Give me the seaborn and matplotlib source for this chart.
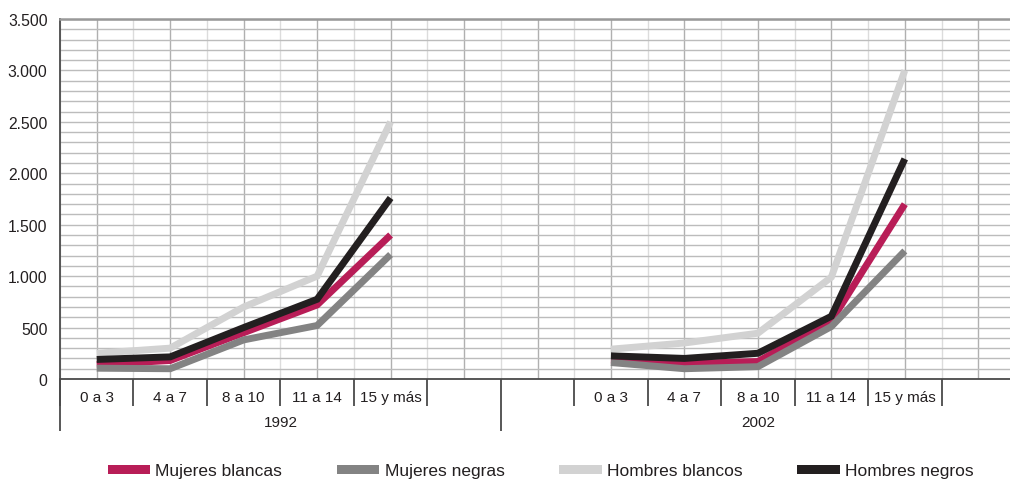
import numpy as np
import pandas as pd
import matplotlib
matplotlib.use("Agg")
import matplotlib.pyplot as plt
import matplotlib.transforms as mtransforms
from matplotlib.patches import Patch
from matplotlib.ticker import MultipleLocator, FuncFormatter
import seaborn as sns

# --- data ---
years = ["1992", "2002"]
categories = ["0 a 3", "4 a 7", "8 a 10", "11 a 14", "15 y más"]
series = ["Mujeres blancas", "Mujeres negras", "Hombres blancos", "Hombres negros"]

mujeres_blancas_1992 = [140, 180, 450, 720, 1400]
mujeres_negras_1992 = [105, 100, 380, 520, 1210]
hombres_blancos_1992 = [250, 300, 700, 1000, 2500]
hombres_negros_1992 = [190, 215, 500, 775, 1760]

mujeres_blancas_2002 = [185, 150, 170, 565, 1700]
mujeres_negras_2002 = [160, 100, 120, 510, 1245]
hombres_blancos_2002 = [290, 350, 445, 990, 3000]
hombres_negros_2002 = [225, 200, 250, 610, 2140]

colors = {
    "Mujeres blancas": "#b81d57",
    "Mujeres negras": "#838383",
    "Hombres blancos": "#d2d2d2",
    "Hombres negros": "#231f20",
}

values = {
    ("1992", "Mujeres blancas"): mujeres_blancas_1992,
    ("1992", "Mujeres negras"): mujeres_negras_1992,
    ("1992", "Hombres blancos"): hombres_blancos_1992,
    ("1992", "Hombres negros"): hombres_negros_1992,
    ("2002", "Mujeres blancas"): mujeres_blancas_2002,
    ("2002", "Mujeres negras"): mujeres_negras_2002,
    ("2002", "Hombres blancos"): hombres_blancos_2002,
    ("2002", "Hombres negros"): hombres_negros_2002,
}

# each year group occupies a block of slots on the x axis
group_offset = {"1992": 0, "2002": 7}
n_slots = 13

rows = []
for (year, name), vals in values.items():
    for i, v in enumerate(vals):
        rows.append({"year": year, "serie": name, "pos": group_offset[year] + i, "value": v})
df = pd.DataFrame(rows)

# --- style ---
sns.set_style("white")
plt.rcParams["font.family"] = ["Liberation Sans", "DejaVu Sans"]
text_color = "#231f20"

fig = plt.figure(figsize=(10.10, 4.81), dpi=100)
W, H = 1010, 481
ax = fig.add_axes([60 / W, (H - 380) / H, 955 / W, 360 / H])

sns.lineplot(
    data=df, x="pos", y="value", hue="serie", units="year", estimator=None,
    hue_order=series, palette=colors, linewidth=5.0, legend=False, ax=ax,
    solid_capstyle="butt", solid_joinstyle="miter", zorder=3,
)

ax.set_xlim(-0.5, n_slots - 0.5)
ax.set_ylim(0, 3500)

# grid: category centres darker, boundaries lighter, 100-step horizontals
ax.xaxis.set_major_locator(MultipleLocator(1))
ax.xaxis.set_minor_locator(MultipleLocator(0.5))
ax.yaxis.set_major_locator(MultipleLocator(500))
ax.yaxis.set_minor_locator(MultipleLocator(100))
ax.grid(which="major", axis="x", color="#b0b0b0", linewidth=1.0)
ax.grid(which="minor", axis="x", color="#dcdcdc", linewidth=1.0)
ax.grid(which="both", axis="y", color="#bcbcbc", linewidth=1.0)
ax.set_axisbelow(True)

ax.tick_params(axis="x", which="both", length=0, labelbottom=False)
ax.tick_params(axis="y", which="major", length=4, width=1, color="#555555",
               labelsize=11.3, labelcolor=text_color, pad=5)
ax.tick_params(axis="y", which="minor", length=0)
ax.yaxis.set_major_formatter(FuncFormatter(lambda v, p: f"{v:,.0f}".replace(",", ".")))
ax.set_xlabel("")
ax.set_ylabel("")

for side in ["left", "bottom"]:
    ax.spines[side].set_color("#4a4a4a")
    ax.spines[side].set_linewidth(1.3)
ax.spines["top"].set_color("#999999")
ax.spines["top"].set_linewidth(1.8)
ax.spines["right"].set_visible(False)

# --- two-level category axis below the plot ---
trans = mtransforms.blended_transform_factory(ax.transData, ax.transAxes)
short_y = -27 / 360
long_y = -52 / 360
for year in years:
    off = group_offset[year]
    bounds = [off + i - 0.5 for i in range(len(categories) + 1)]
    ax.vlines(bounds, short_y, 0, transform=trans, color="#4a4a4a", linewidth=1.3, clip_on=False)
    for i, cat in enumerate(categories):
        ax.text(off + i, -18 / 360, cat, transform=trans, ha="center", va="center",
                fontsize=11, color=text_color)
group_edges = [-0.5, 5.5, n_slots - 0.5]
ax.vlines(group_edges, long_y, 0, transform=trans, color="#4a4a4a", linewidth=1.3, clip_on=False)
for k, year in enumerate(years):
    centre = (group_edges[k] + group_edges[k + 1]) / 2
    ax.text(centre, -43 / 360, year, transform=trans, ha="center", va="center",
            fontsize=11, color=text_color)

# --- legend ---
handles = [Patch(facecolor=colors[s], edgecolor="none", label=s) for s in series]
fig.legend(
    handles=handles, loc="center left", bbox_to_anchor=(92 / W, 1 - 472 / H),
    ncol=4, frameon=False, fontsize=12.5, handlelength=2.45, handleheight=0.45,
    handletextpad=0.3, columnspacing=3.15, labelcolor=text_color,
)

fig.savefig("out.png", dpi=100)
